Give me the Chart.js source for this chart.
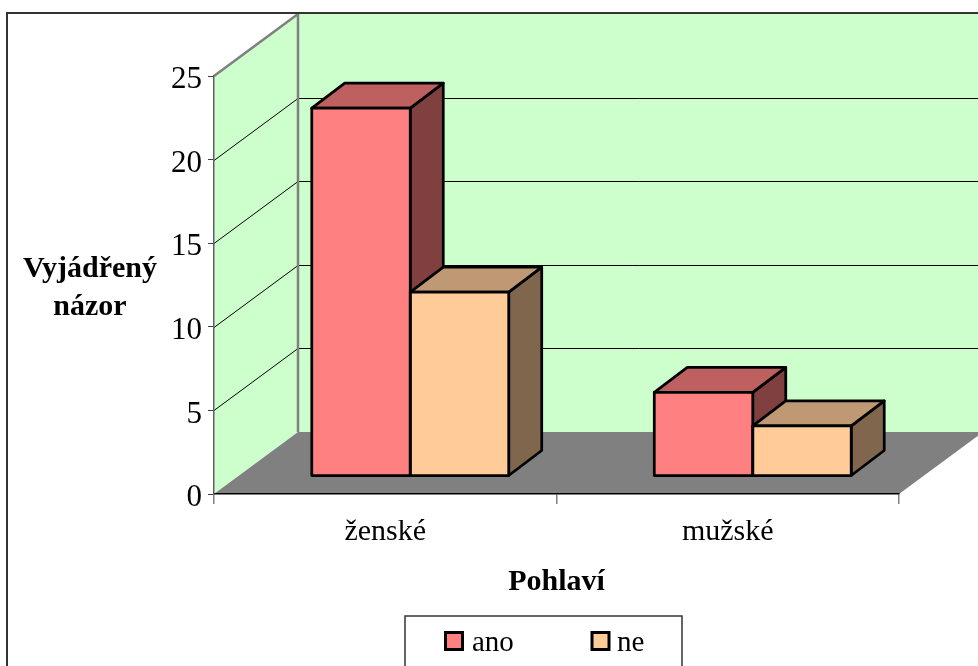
<!DOCTYPE html>
<html>
<head>
<meta charset="utf-8">
<style>
  html, body { margin: 0; padding: 0; background: #fff; overflow: hidden; }
  #wrap { width: 978px; height: 666px; }
</style>
<script src="https://cdn.jsdelivr.net/npm/chart.js@4"></script>
</head>
<body>
<div id="wrap"><canvas id="chartBar" width="978" height="666"></canvas></div>
<script>
// data
const categories = ['ženské', 'mužské'];
const ano = [22, 5];
const ne = [11, 3];
const seriesNames = ['ano', 'ne'];
const axisMax = 25;
const axisStep = 5;
const yTitle = ['Vyjádřený', 'názor'];
const xTitle = 'Pohlaví';

const FONT = '"Liberation Serif", "Times New Roman", serif';
const WALL_DX = 84, WALL_DY = -62;   // depth of the walls
const BAR_DX = 25, BAR_DY = -18;     // bars stand this far in from the front edge
const TOP_DX = 33, TOP_DY = -25;     // depth of one bar
const EDGE = 2.75;                   // black outline of the boxes

const colors = {
  ano: { front: '#FF8080', top: '#BF6060', side: '#804040' },
  ne: { front: '#FFCC99', top: '#BF9973', side: '#80664D' }
};

function poly(ctx, pts, fill, stroke, lw) {
  ctx.beginPath();
  pts.forEach((p, i) => i ? ctx.lineTo(p[0], p[1]) : ctx.moveTo(p[0], p[1]));
  ctx.closePath();
  if (fill) { ctx.fillStyle = fill; ctx.fill(); }
  if (stroke) { ctx.strokeStyle = stroke; ctx.lineWidth = lw; ctx.lineJoin = 'round'; ctx.stroke(); }
}

function barBox(bar) {
  const p = bar.getProps(['x', 'y', 'base', 'width'], true);
  return { x0: p.x - p.width / 2, x1: p.x + p.width / 2, y0: p.y, y1: p.base };
}

// frame, walls, floor and gridlines
const walls = {
  id: 'walls',
  beforeDraw(chart) {
    const ctx = chart.ctx, x = chart.scales.x, y = chart.scales.y;
    const l = x.left, r = x.right, b = y.bottom, t = y.top;
    ctx.save();
    const bx = l + WALL_DX, rightEnd = r + WALL_DX;
    poly(ctx, [[l, b], [l, t], [bx, t + WALL_DY], [bx, b + WALL_DY]], '#CCFFCC');
    poly(ctx, [[bx, t + WALL_DY], [rightEnd, t + WALL_DY], [rightEnd, b + WALL_DY], [bx, b + WALL_DY]], '#CCFFCC');
    poly(ctx, [[l, b], [bx, b + WALL_DY], [rightEnd, b + WALL_DY], [r, b]], '#808080');

    ctx.strokeStyle = '#000';
    ctx.lineWidth = 1;
    y.ticks.forEach(tk => {
      if (tk.value === 0 || tk.value === axisMax) return;
      const py = Math.round(y.getPixelForValue(tk.value)) + 0.5;
      ctx.beginPath();
      ctx.moveTo(l, py);
      ctx.lineTo(bx, py + WALL_DY);
      ctx.lineTo(rightEnd, py + WALL_DY);
      ctx.stroke();
    });

    ctx.strokeStyle = '#808080';
    ctx.lineWidth = 2.5;
    ctx.beginPath();
    ctx.moveTo(l, t);
    ctx.lineTo(bx, t + WALL_DY);
    ctx.lineTo(bx, b + WALL_DY);
    ctx.stroke();

    ctx.strokeStyle = '#333';
    ctx.lineWidth = 2;
    ctx.strokeRect(7, 13, 1000, 700);
    ctx.restore();
  }
};

// side and top faces come from the bar elements, then the front faces are shifted in
const bars3d = {
  id: 'bars3d',
  beforeDatasetsDraw(chart) {
    const ctx = chart.ctx;
    ctx.save();
    ctx.translate(BAR_DX, BAR_DY);
    seriesNames.forEach((name, i) => {
      const c = colors[name];
      chart.getDatasetMeta(i).data.forEach(bar => {
        const { x0, x1, y0, y1 } = barBox(bar);
        poly(ctx, [[x1, y0], [x1 + TOP_DX, y0 + TOP_DY], [x1 + TOP_DX, y1 + TOP_DY], [x1, y1]], c.side, '#000', EDGE);
        poly(ctx, [[x0, y0], [x0 + TOP_DX, y0 + TOP_DY], [x1 + TOP_DX, y0 + TOP_DY], [x1, y0]], c.top, '#000', EDGE);
      });
    });
  },
  afterDatasetsDraw(chart) {
    const ctx = chart.ctx;
    seriesNames.forEach((name, i) => {
      chart.getDatasetMeta(i).data.forEach(bar => {
        const { x0, x1, y0, y1 } = barBox(bar);
        poly(ctx, [[x0, y0], [x1, y0], [x1, y1], [x0, y1]], null, '#000', EDGE);
      });
    });
    ctx.restore();
  }
};

// y title and the legend box sit in fixed places, as in the original
const labels = {
  id: 'labels',
  afterDraw(chart) {
    const ctx = chart.ctx;
    ctx.save();
    ctx.fillStyle = '#000';
    ctx.textBaseline = 'alphabetic';
    ctx.textAlign = 'center';
    ctx.font = 'bold 30px ' + FONT;
    ctx.fillText(yTitle[0], 90, 277);
    ctx.fillText(yTitle[1], 90, 315);

    ctx.strokeStyle = '#333';
    ctx.lineWidth = 1.5;
    ctx.strokeRect(405, 616, 277, 70);
    ctx.textAlign = 'left';
    ctx.font = '29px ' + FONT;
    [[445.5, 472], [592, 617]].forEach((pos, i) => {
      ctx.fillStyle = colors[seriesNames[i]].front;
      ctx.strokeStyle = '#000';
      ctx.lineWidth = 3;
      ctx.fillRect(pos[0], 632.5, 17, 17);
      ctx.strokeRect(pos[0], 632.5, 17, 17);
      ctx.fillStyle = '#000';
      ctx.fillText(seriesNames[i], pos[1], 651);
    });
    ctx.restore();
  }
};

const config = {
  type: 'bar',
  data: {
    labels: categories,
    datasets: [
      { label: seriesNames[0], data: ano, backgroundColor: colors.ano.front },
      { label: seriesNames[1], data: ne, backgroundColor: colors.ne.front }
    ]
  },
  options: {
    responsive: false,
    animation: false,
    clip: false,
    layout: { padding: { left: 0, top: 76, right: 79, bottom: 0 } },
    categoryPercentage: 0.575,
    barPercentage: 1,
    borderWidth: 0,
    plugins: { legend: { display: false }, title: { display: false }, tooltip: { enabled: false } },
    scales: {
      x: {
        afterFit(s) { s.height = 172; },
        grid: { drawOnChartArea: false, color: '#808080', tickLength: 10, lineWidth: 1.5 },
        border: { color: '#000', width: 1.5 },
        ticks: { color: '#000', padding: 10, maxRotation: 0, font: { family: FONT, size: 30 } },
        title: {
          display: true, text: xTitle, color: '#000',
          padding: { top: 0, bottom: 66 },
          font: { family: FONT, size: 30, weight: 'bold' }
        }
      },
      y: {
        min: 0,
        max: axisMax,
        afterFit(s) {
          s.width = 214;
          // digits sit 2px lower than the canvas middle baseline puts them
          const drawLabels = s.drawLabels;
          s.drawLabels = function (area) {
            s.ctx.save();
            s.ctx.translate(0, 2);
            drawLabels.call(s, area);
            s.ctx.restore();
          };
        },
        grid: { drawOnChartArea: false, color: '#404040', tickLength: 6, lineWidth: 1 },
        border: { color: '#606060', width: 1.5 },
        ticks: { stepSize: axisStep, color: '#000', padding: 6, font: { family: FONT, size: 31 } }
      }
    }
  },
  plugins: [walls, bars3d, labels]
};

new Chart(document.getElementById('chartBar'), config);
</script>
</body>
</html>
